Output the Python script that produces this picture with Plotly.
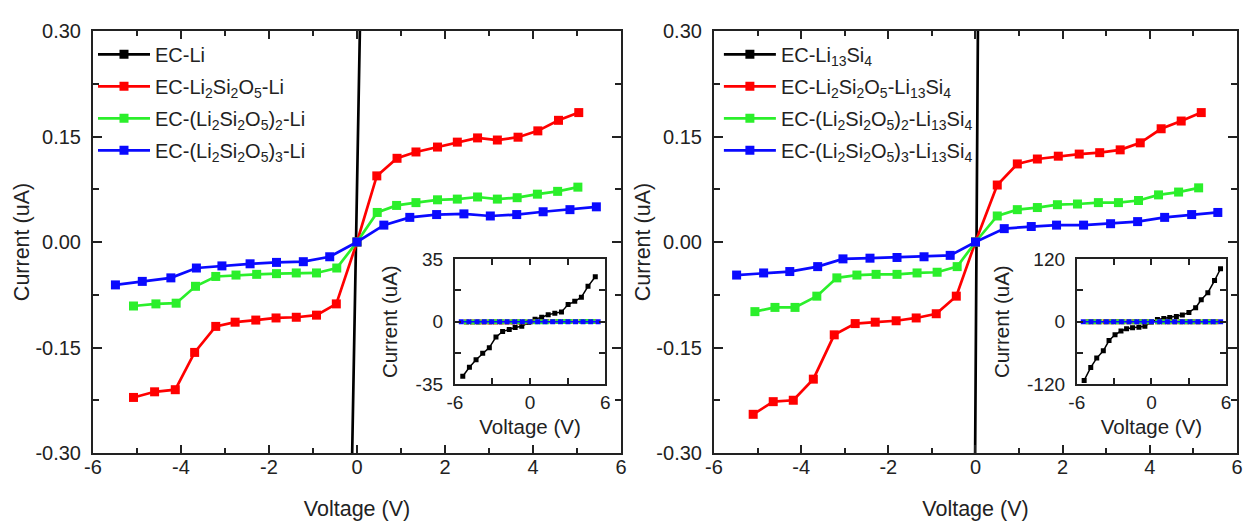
import plotly.graph_objects as go

# ---------------- data: left panel (Li electrode) ----------------
V_BLK_L = [-5.37, -4.84, -4.31, -3.78, -3.25, -2.72, -2.19, -1.66, -1.19, -0.66, -0.13,
           0.40, 0.93, 1.45, 1.98, 2.51, 3.04, 3.57, 4.10, 4.63, 5.21]
I_BLK_L = [-30.5, -25.5, -21.3, -17.7, -14.5, -8.6, -5.5, -4.3, -3.2, -2.5, -0.37,
           1.45, 2.5, 3.9, 4.8, 5.5, 9.6, 11.4, 13.7, 19.8, 25.2]

V_RED_L = [-5.08, -4.60, -4.13, -3.69, -3.21, -2.77, -2.30, -1.84, -1.38, -0.92, -0.47, 0.0,
           0.45, 0.91, 1.34, 1.83, 2.28, 2.74, 3.19, 3.66, 4.11, 4.58, 5.04]
I_RED_L = [-0.221, -0.213, -0.210, -0.157, -0.120, -0.114, -0.111, -0.108, -0.107, -0.104, -0.088, 0.0,
           0.094, 0.119, 0.128, 0.135, 0.142, 0.148, 0.145, 0.149, 0.158, 0.173, 0.184]

V_GRN_L = [-5.08, -4.57, -4.11, -3.67, -3.21, -2.75, -2.28, -1.83, -1.38, -0.92, -0.46, 0.0,
           0.46, 0.90, 1.34, 1.83, 2.28, 2.74, 3.19, 3.64, 4.10, 4.56, 5.02]
I_GRN_L = [-0.091, -0.088, -0.087, -0.063, -0.049, -0.047, -0.046, -0.045, -0.044, -0.044, -0.037, 0.0,
           0.042, 0.052, 0.056, 0.060, 0.061, 0.064, 0.061, 0.063, 0.068, 0.072, 0.078]

V_BLU_L = [-5.49, -4.88, -4.23, -3.65, -3.07, -2.43, -1.83, -1.22, -0.62, 0.0,
           0.61, 1.20, 1.81, 2.43, 3.03, 3.63, 4.23, 4.84, 5.44]
I_BLU_L = [-0.061, -0.056, -0.051, -0.037, -0.034, -0.031, -0.029, -0.028, -0.021, 0.0,
           0.024, 0.035, 0.039, 0.040, 0.037, 0.039, 0.043, 0.046, 0.050]

# ---------------- data: right panel (Li13Si4 electrode) ----------------
V_BLK_R = [-5.41, -4.88, -4.40, -3.87, -3.41, -2.93, -2.45, -2.00, -1.52, -1.01, -0.53, -0.03,
           0.48, 0.99, 1.47, 2.00, 2.48, 3.01, 3.55, 4.00, 4.53, 5.07, 5.55]
I_BLK_R = [-112.7, -87.6, -69.8, -55.7, -36.1, -25.1, -17.8, -13.5, -11.6, -10.4, -8.6, -0.51,
           4.3, 6.1, 8.0, 9.8, 12.9, 17.8, 26.9, 42.2, 55.7, 79.0, 101.6]

V_RED_R = [-5.10, -4.64, -4.18, -3.72, -3.24, -2.76, -2.30, -1.82, -1.36, -0.90, -0.44, 0.0,
           0.50, 0.96, 1.42, 1.90, 2.38, 2.85, 3.32, 3.78, 4.26, 4.72, 5.18]
I_RED_R = [-0.245, -0.227, -0.225, -0.195, -0.132, -0.116, -0.114, -0.112, -0.108, -0.102, -0.077, 0.0,
           0.081, 0.111, 0.118, 0.122, 0.125, 0.127, 0.131, 0.141, 0.161, 0.172, 0.184]

V_GRN_R = [-5.06, -4.60, -4.14, -3.64, -3.18, -2.72, -2.28, -1.80, -1.34, -0.88, -0.42, 0.0,
           0.50, 0.96, 1.42, 1.88, 2.34, 2.82, 3.28, 3.74, 4.20, 4.66, 5.12]
I_GRN_R = [-0.099, -0.093, -0.093, -0.077, -0.051, -0.047, -0.046, -0.046, -0.044, -0.043, -0.035, 0.0,
           0.037, 0.046, 0.049, 0.053, 0.054, 0.056, 0.056, 0.059, 0.067, 0.071, 0.077]

V_BLU_R = [-5.48, -4.86, -4.26, -3.62, -3.04, -2.42, -1.80, -1.18, -0.58, 0.0,
           0.66, 1.28, 1.86, 2.48, 3.10, 3.72, 4.34, 4.96, 5.56]
I_BLU_R = [-0.047, -0.044, -0.042, -0.035, -0.024, -0.023, -0.022, -0.021, -0.019, 0.0,
           0.019, 0.022, 0.024, 0.024, 0.026, 0.029, 0.035, 0.039, 0.042]

# ---------------- labels ----------------
NAMES_L = ["EC-Li",
           "EC-Li<sub>2</sub>Si<sub>2</sub>O<sub>5</sub>-Li",
           "EC-(Li<sub>2</sub>Si<sub>2</sub>O<sub>5</sub>)<sub>2</sub>-Li",
           "EC-(Li<sub>2</sub>Si<sub>2</sub>O<sub>5</sub>)<sub>3</sub>-Li"]
NAMES_R = ["EC-Li<sub>13</sub>Si<sub>4</sub>",
           "EC-Li<sub>2</sub>Si<sub>2</sub>O<sub>5</sub>-Li<sub>13</sub>Si<sub>4</sub>",
           "EC-(Li<sub>2</sub>Si<sub>2</sub>O<sub>5</sub>)<sub>2</sub>-Li<sub>13</sub>Si<sub>4</sub>",
           "EC-(Li<sub>2</sub>Si<sub>2</sub>O<sub>5</sub>)<sub>3</sub>-Li<sub>13</sub>Si<sub>4</sub>"]
X_TICKS = [-6, -4, -2, 0, 2, 4, 6]
X_TICKTEXT = ["-6", "-4", "-2", "0", "2", "4", "6"]
Y_TICKS = [-0.30, -0.15, 0.0, 0.15, 0.30]
Y_TICKTEXT = ["-0.30", "-0.15", "0.00", "0.15", "0.30"]
INSET_X_TICKS = [-6, 0, 6]
INSET_X_TICKTEXT = ["-6", "0", "6"]
INSET_L_Y_TICKS = [-35, 0, 35]
INSET_L_Y_TICKTEXT = ["-35", "0", "35"]
INSET_R_Y_TICKS = [-120, 0, 120]
INSET_R_Y_TICKTEXT = ["-120", "0", "120"]
X_TITLE = "Voltage (V)"
Y_TITLE = "Current (uA)"

COLORS = ["#000000", "#FF0000", "#2BEF2B", "#0A0AFF"]
FONT = "Liberation Sans, Arial, sans-serif"
TXT = "#222222"

fig = go.Figure()

series_L = [(V_BLK_L, I_BLK_L), (V_RED_L, I_RED_L), (V_GRN_L, I_GRN_L), (V_BLU_L, I_BLU_L)]
series_R = [(V_BLK_R, I_BLK_R), (V_RED_R, I_RED_R), (V_GRN_R, I_GRN_R), (V_BLU_R, I_BLU_R)]

for k, (v, i) in enumerate(series_L):
    fig.add_trace(go.Scatter(x=v, y=i, name=NAMES_L[k], mode="lines+markers",
                             line=dict(color=COLORS[k], width=2.7),
                             marker=dict(symbol="square", size=9, color=COLORS[k]),
                             legendgroup="L%d" % k,
                             xaxis="x", yaxis="y", legend="legend"))
for k, (v, i) in enumerate(series_R):
    fig.add_trace(go.Scatter(x=v, y=i, name=NAMES_R[k], mode="lines+markers",
                             line=dict(color=COLORS[k], width=2.7),
                             marker=dict(symbol="square", size=9, color=COLORS[k]),
                             legendgroup="R%d" % k,
                             xaxis="x2", yaxis="y2", legend="legend2"))
# insets
for k, (v, i) in enumerate(series_L):
    fig.add_trace(go.Scatter(x=v, y=i, mode="lines+markers", showlegend=False,
                             line=dict(color=COLORS[k], width=1.5),
                             marker=dict(symbol="square", size=5, color=COLORS[k]),
                             xaxis="x3", yaxis="y3"))
for k, (v, i) in enumerate(series_R):
    fig.add_trace(go.Scatter(x=v, y=i, mode="lines+markers", showlegend=False,
                             line=dict(color=COLORS[k], width=1.5),
                             marker=dict(symbol="square", size=5, color=COLORS[k]),
                             xaxis="x4", yaxis="y4"))

# page body has an 8px default margin: work in screen pixels, convert to figure pixels
OFF = 8
W, H = 1255 - OFF, 529 - OFF
ML, MR, MT, MB = 86 - OFF, 12, 22 - OFF, 65
PW, PH = W - ML - MR, H - MT - MB


def px_x(a, b):
    return [(a - OFF - ML) / PW, (b - OFF - ML) / PW]


def py(y):
    return (H - MB - (y - OFF)) / PH


def px_y(top, bottom):
    return [py(bottom), py(top)]


def axis(domain, rng, tickvals, ticktext, minor_dtick, anchor, title, standoff,
         lblstand, ticklen, minorlen, tsize, titsize):
    return dict(domain=domain, range=rng, tickmode="array", tickvals=tickvals, ticktext=ticktext,
                ticks="inside", ticklen=ticklen, tickwidth=1.8, tickcolor=TXT,
                showline=True, linewidth=2, linecolor=TXT, mirror="ticks",
                showgrid=False, zeroline=False, anchor=anchor,
                tickfont=dict(family=FONT, size=tsize, color=TXT),
                ticklabelstandoff=lblstand,
                minor=dict(dtick=minor_dtick, ticks="inside", ticklen=minorlen, tickwidth=1.8,
                           tickcolor=TXT, showgrid=False),
                title=dict(text=title, font=dict(family=FONT, size=titsize, color=TXT),
                           standoff=standoff))


legend_common = dict(xanchor="left", yanchor="top", bgcolor="rgba(0,0,0,0)",
                     font=dict(family=FONT, size=20, color=TXT),
                     tracegroupgap=3, itemwidth=52)

fig.update_layout(
    width=W, height=H, margin=dict(l=ML, r=MR, t=MT, b=MB),
    paper_bgcolor="white", plot_bgcolor="white",
    font=dict(family=FONT, size=20, color=TXT),
    xaxis=axis(px_x(86, 620), [-6, 6], X_TICKS, X_TICKTEXT, 1, "y", X_TITLE, 24, -5, 8, 5, 20, 21.5),
    yaxis=axis(px_y(22, 464), [-0.30, 0.30], Y_TICKS, Y_TICKTEXT, 0.075, "x", Y_TITLE, 0, 6, 9, 6, 20, 21.5),
    xaxis2=axis(px_x(714, 1243), [-6, 6], X_TICKS, X_TICKTEXT, 1, "y2", X_TITLE, 24, -5, 8, 5, 20, 21.5),
    yaxis2=axis(px_y(22, 464), [-0.30, 0.30], Y_TICKS, Y_TICKTEXT, 0.075, "x2", Y_TITLE, 0, 6, 9, 6, 20, 21.5),
    xaxis3=axis(px_x(452, 604), [-6, 6], INSET_X_TICKS, INSET_X_TICKTEXT, 3, "y3", X_TITLE, 8, 0, 6, 6, 19, 20.5),
    yaxis3=axis(px_y(261, 392), [-35, 35], INSET_L_Y_TICKS, INSET_L_Y_TICKTEXT, 17.5, "x3", Y_TITLE, 12, 6, 6, 6, 19, 20.5),
    xaxis4=axis(px_x(1081, 1232), [-6, 6], INSET_X_TICKS, INSET_X_TICKTEXT, 3, "y4", X_TITLE, 8, 0, 6, 6, 19, 20.5),
    yaxis4=axis(px_y(261, 392), [-120, 120], INSET_R_Y_TICKS, INSET_R_Y_TICKTEXT, 60, "x4", Y_TITLE, 12, 6, 6, 6, 19, 20.5),
    legend=dict(x=(86 - OFF - ML) / PW, y=py(26), **legend_common),
    legend2=dict(x=(719 - OFF - ML) / PW, y=py(26), **legend_common),
)

fig.write_html("out.html")
